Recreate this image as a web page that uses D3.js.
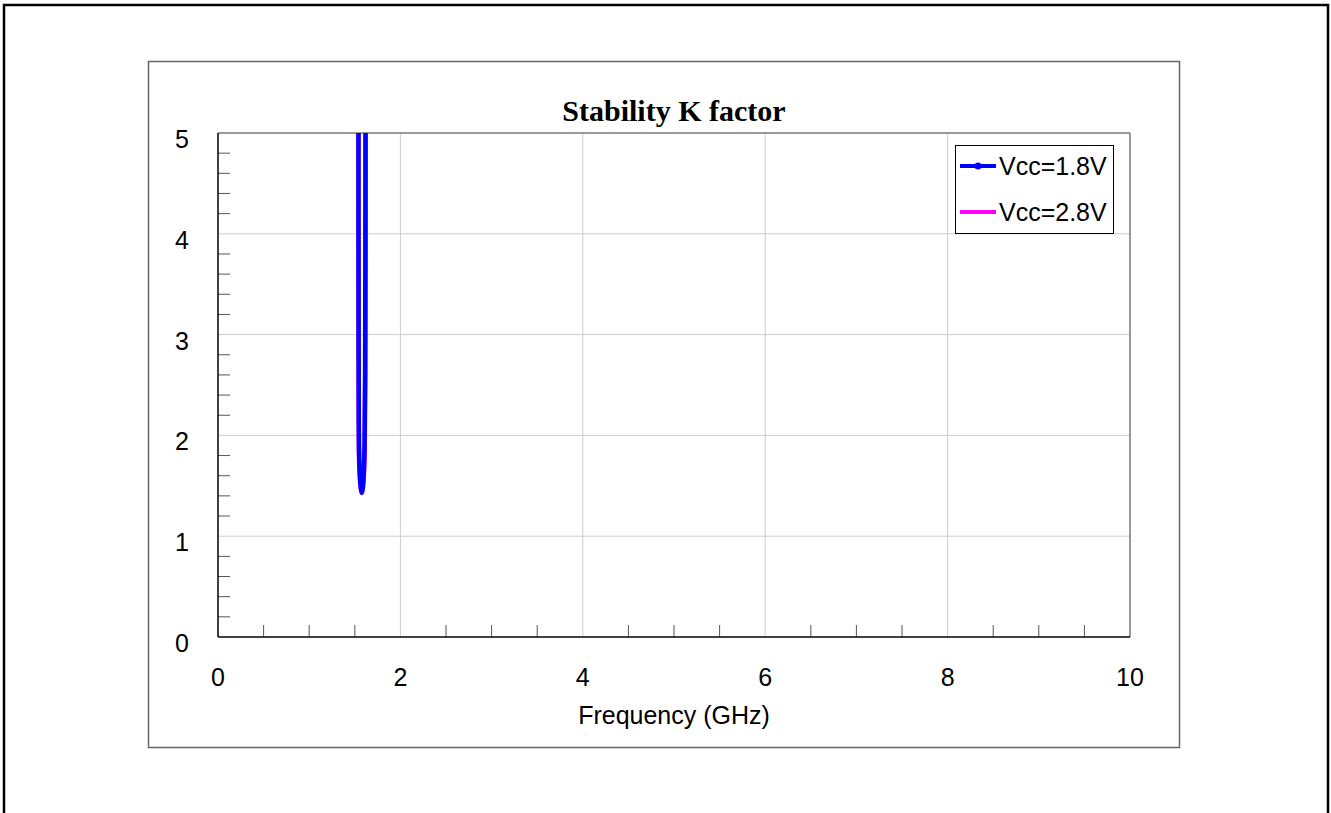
<!DOCTYPE html>
<meta charset="utf-8">
<style>
  body { margin: 0; background: #fff; }
  svg { display: block; }
  .tick-label { font: 25px Arial, "Liberation Sans", sans-serif; fill: #000; }
</style>
<body>
<svg width="1331" height="813"></svg>
<script src="https://cdn.jsdelivr.net/npm/d3@7"></script>
<script>

// data: frequency (GHz) and K factor
var freq18 = [1.540, 1.541, 1.542, 1.544, 1.548, 1.556, 1.566, 1.576, 1.586, 1.598, 1.607, 1.613, 1.616, 1.618];
var k18    = [6.0,   4.0,   3.0,   2.2,   1.8,   1.6,   1.48,  1.43,  1.47,  1.62,  1.9,   2.6,   3.8,   6.0];
var freq28 = [1.538, 1.539, 1.540, 1.542, 1.546, 1.554, 1.565, 1.576, 1.587, 1.600, 1.609, 1.615, 1.618, 1.620];
var k28    = [6.0,   4.0,   3.0,   2.2,   1.8,   1.6,   1.48,  1.43,  1.47,  1.62,  1.9,   2.6,   3.8,   6.0];

var seriesNames = ["Vcc=1.8V", "Vcc=2.8V"];
var xTicks = [0, 2, 4, 6, 8, 10];
var yTicks = [0, 1, 2, 3, 4, 5];

var svg = d3.select("svg");

// outer page frame
svg.append("rect")
    .attr("x", 4).attr("y", 5)
    .attr("width", 1324).attr("height", 830)
    .attr("fill", "none").attr("stroke", "#000").attr("stroke-width", 2.5);

// chart frame
svg.append("rect")
    .attr("x", 148.5).attr("y", 61.5)
    .attr("width", 1031).attr("height", 686)
    .attr("fill", "#fff").attr("stroke", "#666").attr("stroke-width", 1.5);

var x = d3.scaleLinear().domain([0, 10]).range([218, 1130]);
var y = d3.scaleLinear().domain([0, 5]).range([637, 133]);

// grid
svg.append("g").selectAll("line")
  .data(xTicks.slice(1, -1))
  .enter().append("line")
    .attr("x1", function(d) { return x(d); }).attr("x2", function(d) { return x(d); })
    .attr("y1", y(0)).attr("y2", y(5))
    .attr("stroke", "#ccc").attr("stroke-width", 1);

svg.append("g").selectAll("line")
  .data(yTicks.slice(1, -1))
  .enter().append("line")
    .attr("y1", function(d) { return y(d); }).attr("y2", function(d) { return y(d); })
    .attr("x1", x(0)).attr("x2", x(10))
    .attr("stroke", "#ccc").attr("stroke-width", 1);

// minor ticks
var xMinor = d3.range(0.5, 10, 0.5).filter(function(d) { return d % 2 !== 0; });
svg.append("g").selectAll("line")
  .data(xMinor)
  .enter().append("line")
    .attr("x1", function(d) { return x(d); }).attr("x2", function(d) { return x(d); })
    .attr("y1", y(0)).attr("y2", y(0) - 12)
    .attr("stroke", "#555").attr("stroke-width", 1);

var yMinor = d3.range(0.2, 5, 0.2).filter(function(d) { return Math.abs(d - Math.round(d)) > 0.01; });
svg.append("g").selectAll("line")
  .data(yMinor)
  .enter().append("line")
    .attr("y1", function(d) { return y(d); }).attr("y2", function(d) { return y(d); })
    .attr("x1", x(0)).attr("x2", x(0) + 12)
    .attr("stroke", "#555").attr("stroke-width", 1);

// plot border: top / right gray, left / bottom black
svg.append("line").attr("x1", x(0)).attr("x2", x(10)).attr("y1", y(5)).attr("y2", y(5))
    .attr("stroke", "#777").attr("stroke-width", 1.5);
svg.append("line").attr("x1", x(10)).attr("x2", x(10)).attr("y1", y(5)).attr("y2", y(0))
    .attr("stroke", "#777").attr("stroke-width", 1.5);
svg.append("line").attr("x1", x(0)).attr("x2", x(0)).attr("y1", y(5)).attr("y2", y(0))
    .attr("stroke", "#000").attr("stroke-width", 1.5);
svg.append("line").attr("x1", x(0)).attr("x2", x(10)).attr("y1", y(0)).attr("y2", y(0))
    .attr("stroke", "#000").attr("stroke-width", 1.5);

// tick labels
svg.append("g").selectAll("text")
  .data(xTicks)
  .enter().append("text")
    .attr("class", "tick-label")
    .attr("x", function(d) { return x(d); })
    .attr("y", 686)
    .attr("text-anchor", "middle")
    .text(function(d) { return d; });

svg.append("g").selectAll("text")
  .data(yTicks)
  .enter().append("text")
    .attr("class", "tick-label")
    .attr("x", 189)
    .attr("y", function(d) { return y(d) + 15; })
    .attr("text-anchor", "end")
    .text(function(d) { return d; });

// title and axis label
svg.append("text")
    .attr("x", 674).attr("y", 121)
    .attr("text-anchor", "middle")
    .style("font", "bold 30px 'Liberation Serif', 'Times New Roman', serif")
    .text("Stability K factor");

svg.append("text")
    .attr("class", "tick-label")
    .attr("x", 674).attr("y", 724)
    .attr("text-anchor", "middle")
    .text("Frequency (GHz)");

// curves
svg.append("clipPath").attr("id", "plot-clip")
  .append("rect").attr("x", x(0)).attr("y", y(5)).attr("width", x(10) - x(0)).attr("height", y(0) - y(5));

var line = d3.line()
    .x(function(d) { return x(d[0]); })
    .y(function(d) { return y(d[1]); })
    .curve(d3.curveCatmullRom);

var curves = svg.append("g").attr("clip-path", "url(#plot-clip)");

curves.append("path")
    .datum(d3.zip(freq28, k28))
    .attr("d", line)
    .attr("fill", "none").attr("stroke", "#ff00ff").attr("stroke-width", 4.5);

curves.append("path")
    .datum(d3.zip(freq18, k18))
    .attr("d", line)
    .attr("fill", "none").attr("stroke", "#0000ff").attr("stroke-width", 4.5);

// legend
var legend = svg.append("g");
legend.append("rect")
    .attr("x", 955.5).attr("y", 145.5)
    .attr("width", 158).attr("height", 88)
    .attr("fill", "#fff").attr("stroke", "#000").attr("stroke-width", 1);

var legendColors = ["#0000ff", "#ff00ff"];
seriesNames.forEach(function(name, i) {
  var ly = 166 + i * 46;
  legend.append("line")
      .attr("x1", 960).attr("x2", 996).attr("y1", ly).attr("y2", ly)
      .attr("stroke", legendColors[i]).attr("stroke-width", 4);
  if (i === 0) {
    legend.append("circle").attr("cx", 978).attr("cy", ly).attr("r", 3.5).attr("fill", legendColors[i]);
  }
  legend.append("text")
      .attr("class", "tick-label")
      .attr("x", 999).attr("y", ly + 9)
      .text(name);
});

</script>
</body>
